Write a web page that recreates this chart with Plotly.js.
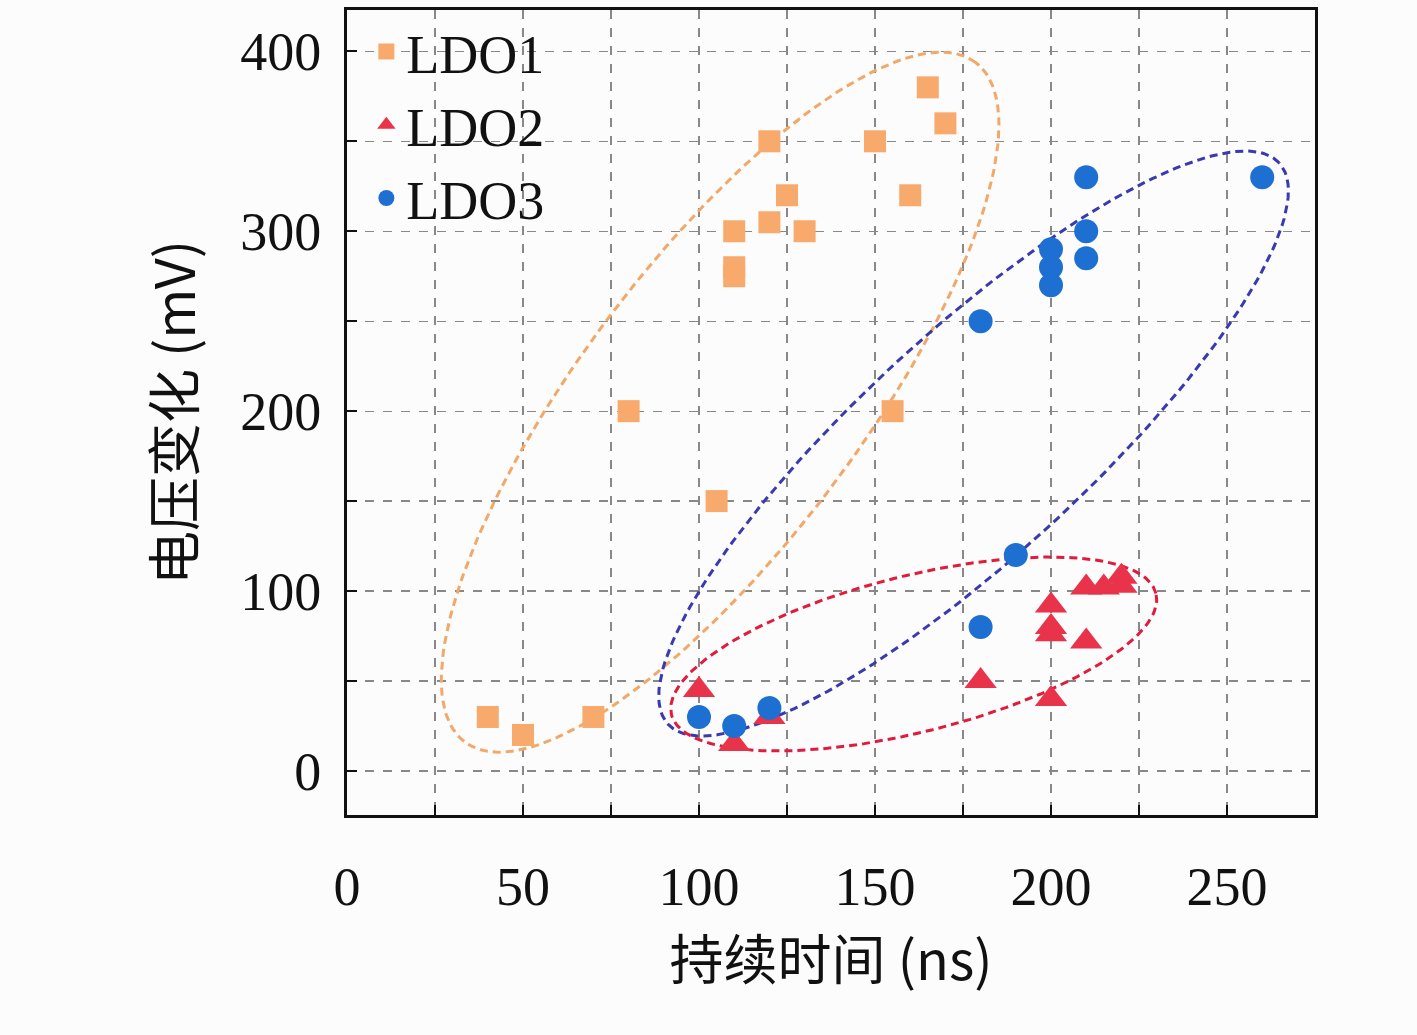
<!DOCTYPE html>
<html><head><meta charset="utf-8">
<script src="https://cdn.plot.ly/plotly-3.0.1.min.js"></script>
<style>body{margin:0;background:#fcfcfc}</style>
</head><body><div id="plot" style="width:1417px;height:1035px"></div>
<script>
// data
const ldo1X = [40, 50, 70, 80, 105, 110, 110, 110, 120, 120, 125, 130, 150, 155, 160, 165, 170];
const ldo1Y = [30, 20, 30, 200, 150, 300, 280, 275, 350, 305, 320, 300, 350, 200, 320, 380, 360];
const ldo2X = [100, 110, 120, 180, 200, 200, 200, 200, 210, 210, 215, 220, 220];
const ldo2Y = [45, 15, 30, 50, 40, 92, 80, 76, 102, 72, 102, 108, 103];
const ldo3X = [100, 110, 120, 180, 180, 190, 200, 200, 200, 210, 210, 210, 260];
const ldo3Y = [30, 25, 35, 80, 250, 120, 290, 280, 270, 330, 300, 285, 330];

// ellipse outlines: centre (data units), semi-axes (px), angle (deg, screen)
const ellipses = [
  {cx: 106, cy: 205, a: 425, b: 140, ang: 53, color: '#F2A868'},
  {cx: 178, cy: 182, a: 415, b: 112, ang: 42.5, color: '#3A3AB0'},
  {cx: 161, cy: 65, a: 250, b: 78, ang: 14, color: '#E01B3C'}
];
const pxX = 3.524, pxY = 1.7975;

function ellipseTrace(e) {
  const xs = [], ys = [];
  const t = e.ang * Math.PI / 180;
  for (let i = 0; i <= 200; i++) {
    const s = i / 200 * 2 * Math.PI;
    const u = e.a * Math.cos(s), v = e.b * Math.sin(s);
    const dx = u * Math.cos(t) - v * Math.sin(t);
    const dy = u * Math.sin(t) + v * Math.cos(t);
    xs.push(e.cx + dx / pxX);
    ys.push(e.cy + dy / pxY);
  }
  return {x: xs, y: ys, mode: 'lines', type: 'scatter', showlegend: false, hoverinfo: 'skip',
    line: {color: e.color, width: 3, dash: '8px,5px'}};
}

const traces = ellipses.map(ellipseTrace).concat([
  {x: ldo1X, y: ldo1Y, name: 'LDO1', mode: 'markers', type: 'scatter',
   marker: {symbol: 'square', size: 22, color: '#F7AA6C'}},
  {x: ldo2X, y: ldo2Y, name: 'LDO2', mode: 'markers', type: 'scatter',
   marker: {symbol: 'triangle-up', size: 28, color: '#E8334A'}},
  {x: ldo3X, y: ldo3Y, name: 'LDO3', mode: 'markers', type: 'scatter',
   marker: {symbol: 'circle', size: 24, color: '#1E6FD2'}}
]);

const tickFont = {family: 'Liberation Serif, DejaVu Serif, serif', size: 54, color: '#111'};
const axisCommon = {
  showline: true, mirror: true, linecolor: '#111', linewidth: 3,
  ticks: 'inside', ticklen: 10, tickwidth: 2, tickcolor: '#111',
  showgrid: true, gridcolor: '#888', griddash: 'dash', gridwidth: 1.2,
  zeroline: false, tickfont: tickFont
};

const layout = {
  width: 1417, height: 1035,
  margin: {l: 347, r: 102, t: 10, b: 220},
  paper_bgcolor: '#fcfcfc', plot_bgcolor: '#fcfcfc',
  xaxis: Object.assign({}, axisCommon, {
    range: [0, 275], tickvals: [0, 25, 50, 75, 100, 125, 150, 175, 200, 225, 250],
    ticktext: ['0', '', '50', '', '100', '', '150', '', '200', '', '250'],
    ticklabelstandoff: 22,
    title: {text: '持续时间 (ns)', standoff: 25,
      font: {family: 'Noto Sans CJK SC, Liberation Serif', size: 54, color: '#111'}}
  }),
  yaxis: Object.assign({}, axisCommon, {
    range: [-24.5, 423], tickvals: [0, 50, 100, 150, 200, 250, 300, 350, 400],
    ticktext: ['0', '', '100', '', '200', '', '300', '', '400'],
    ticklabelstandoff: 12,
    title: {text: '电压变化 (mV)', standoff: 28,
      font: {family: 'Noto Sans CJK SC, Liberation Serif', size: 54, color: '#111'}}
  }),
  legend: {x: 0.02, y: 1.0, xanchor: 'left', yanchor: 'top', bgcolor: 'rgba(0,0,0,0)',
    font: {family: 'Liberation Serif, DejaVu Serif, serif', size: 54, color: '#111'},
    itemsizing: 'trace', tracegroupgap: 0},
  showlegend: true
};

Plotly.newPlot('plot', traces, layout, {staticPlot: true, displayModeBar: false});
</script></body></html>
